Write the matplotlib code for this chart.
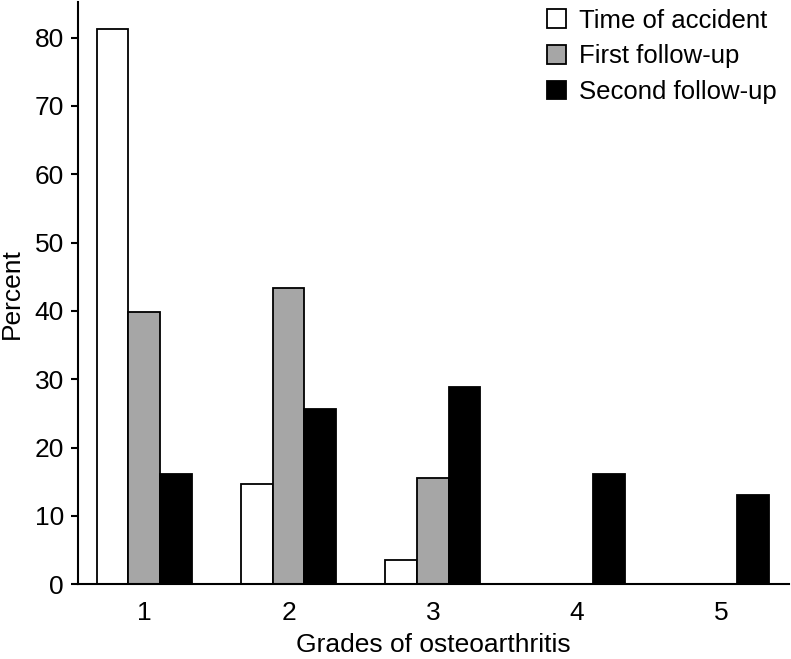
import matplotlib
matplotlib.use("Agg")
import matplotlib.pyplot as plt
import numpy as np

plt.rcParams['font.family'] = ['Liberation Sans', 'DejaVu Sans']

grades = ["1", "2", "3", "4", "5"]
series_names = ["Time of accident", "First follow-up", "Second follow-up"]
time_of_accident = [81.2, 14.7, 3.6, 0, 0]
first_followup = [39.8, 43.4, 15.6, 0, 0]
second_followup = [16.1, 25.6, 28.8, 16.2, 13.0]
colors = ["white", "#a6a6a6", "black"]
yticks = [0, 10, 20, 30, 40, 50, 60, 70, 80]

fig = plt.figure(figsize=(7.91, 6.59), dpi=100)
ax = fig.add_axes([0.0986, 0.1134, 0.899, 0.8836])

x = np.arange(1, len(grades) + 1)
w = 0.22
for i, (vals, name, c) in enumerate(zip([time_of_accident, first_followup, second_followup], series_names, colors)):
    ax.bar(x + (i - 1) * w, vals, width=w, color=c, edgecolor="black", linewidth=1.3, label=name)

ax.set_xlim(0.54, 5.47)
ax.set_ylim(0, 85.2)
ax.set_xticks(x)
ax.set_xticklabels(grades)
ax.set_yticks(yticks)
ax.spines['top'].set_visible(False)
ax.spines['right'].set_visible(False)
for s in ['left', 'bottom']:
    ax.spines[s].set_linewidth(1.5)
ax.tick_params(axis='both', direction='out', length=5, width=1.5, labelsize=19, pad=5)
ax.tick_params(axis='x', length=0, pad=12)
ax.set_xlabel("Grades of osteoarthritis", fontsize=19, labelpad=6)
ax.set_ylabel("Percent", fontsize=19, labelpad=8)

leg = ax.legend(loc='upper right', bbox_to_anchor=(0.9975, 1.006), frameon=False, fontsize=18.5,
                handlelength=0.75, handleheight=0.75, handletextpad=0.5, labelspacing=0.45,
                borderaxespad=0.0)
fig.savefig("out.png", dpi=100)
